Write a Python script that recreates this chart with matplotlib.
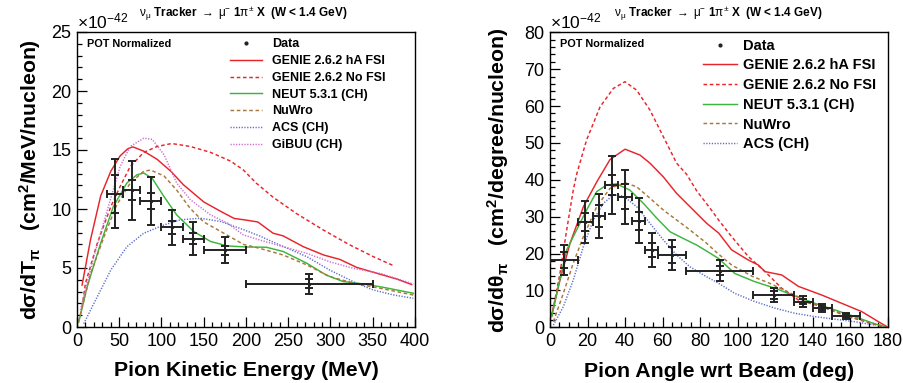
import numpy as np
import matplotlib
matplotlib.use('Agg')
import matplotlib.pyplot as plt
from matplotlib.lines import Line2D
from matplotlib.ticker import MultipleLocator

plt.rcParams['font.family'] = ['Liberation Sans', 'DejaVu Sans']
plt.rcParams['mathtext.fontset'] = 'custom'
plt.rcParams['mathtext.rm'] = 'Liberation Sans'
plt.rcParams['mathtext.it'] = 'Liberation Sans:italic'
plt.rcParams['mathtext.bf'] = 'Liberation Sans:bold'
plt.rcParams['lines.scale_dashes'] = False

# ---------------- Left panel: pion kinetic energy ----------------
T_center = [45, 65, 87.5, 112.5, 137.5, 175, 275]
T_lo = [35, 55, 75, 100, 125, 150, 200]
T_hi = [55, 75, 100, 125, 150, 200, 350]
T_data = [11.3, 11.6, 10.7, 8.45, 7.5, 6.5, 3.65]
T_err_tot = [2.95, 2.5, 2.05, 1.5, 1.38, 1.1, 0.85]
T_err_stat = [1.6, 0.85, 0.67, 0.57, 0.46, 0.37, 0.38]

T_genie_ha_x = [6, 16, 28, 40, 51, 60, 66, 79, 95, 111, 126, 150, 170, 186, 201, 214, 232, 244, 268, 292, 311, 331, 355, 379, 396]
T_genie_ha_y = [3.55, 7.4, 11.1, 13.2, 14.5, 15.1, 15.27, 14.9, 14.2, 13.2, 12.05, 10.6, 9.8, 9.2, 9.05, 8.9, 7.95, 7.72, 6.8, 6.1, 5.73, 5.05, 4.55, 4.05, 3.6]
T_genie_nofsi_x = [6, 10, 24, 40, 51, 63, 79, 95, 112, 134, 158, 182, 197, 212, 232, 260, 292, 323, 351, 376]
T_genie_nofsi_y = [1.7, 3.7, 7.1, 10.2, 11.9, 13.6, 14.8, 15.3, 15.55, 15.3, 14.8, 14.05, 13.3, 12.2, 11.0, 9.6, 8.2, 6.95, 5.95, 5.15]
T_neut_x = [2, 12, 28, 43, 59, 71, 79, 89, 103, 118, 138, 158, 178, 201, 224, 244, 272, 295, 315, 339, 362, 398]
T_neut_y = [0.4, 3.4, 7.1, 10.2, 12.2, 12.9, 13.05, 12.6, 11.05, 9.5, 8.1, 7.25, 6.87, 6.78, 6.76, 6.4, 5.4, 4.4, 3.85, 3.65, 3.37, 2.86]
T_nuwro_x = [2, 16, 32, 47, 63, 79, 87, 103, 118, 134, 150, 170, 197, 216, 244, 272, 299, 331, 359, 398]
T_nuwro_y = [0.5, 4.5, 7.66, 10.35, 12.2, 13.2, 13.3, 12.8, 11.6, 10.05, 8.9, 8.1, 7.0, 6.67, 6.1, 5.26, 4.27, 3.65, 3.28, 2.71]
T_acs_x = [8, 20, 40, 59, 79, 103, 122, 146, 170, 197, 216, 240, 272, 299, 331, 351, 375, 398]
T_acs_y = [0.28, 2.0, 4.83, 6.8, 7.95, 8.65, 9.08, 9.22, 8.94, 8.25, 7.72, 6.95, 5.96, 4.83, 3.7, 3.13, 2.71, 2.43]
T_gibuu_x = [4, 20, 36, 51, 63, 79, 89, 103, 118, 134, 158, 178, 197, 216, 244, 272, 299, 327, 359, 398]
T_gibuu_y = [1.43, 5.97, 9.93, 13.6, 15.3, 16.0, 15.9, 14.6, 12.2, 10.8, 9.5, 8.8, 7.8, 7.38, 6.8, 6.24, 5.53, 4.97, 4.54, 3.65]

# ---------------- Right panel: pion angle ----------------
A_lo = [0, 15, 22.7, 29.2, 36.3, 43.7, 50.7, 57.7, 72.5, 108.2, 130, 140.2, 150.2]
A_hi = [15, 22.7, 29.2, 36.3, 43.7, 50.7, 57.7, 72.5, 108.2, 130, 140.2, 150.2, 165.3]
A_center = [7.5, 18.8, 26.0, 32.8, 40.2, 47.2, 54.2, 65.2, 90.4, 119.2, 135.1, 145.2, 157.8]
A_data = [18.25, 28.6, 30.2, 38.6, 35.4, 28.9, 21.0, 19.6, 15.35, 8.76, 6.95, 5.15, 3.15]
A_err_tot = [4.05, 5.75, 6.0, 7.8, 7.35, 6.05, 4.65, 4.0, 2.9, 1.9, 1.45, 1.1, 0.85]
A_err_stat = [2.05, 2.35, 3.05, 2.6, 3.45, 2.45, 1.9, 2.1, 1.25, 1.0, 0.75, 0.55, 0.35]

A_genie_ha_x = [0.9, 5.3, 10.7, 17.8, 25, 32, 40, 48, 53.3, 60.4, 67.5, 74.6, 83.5, 90, 96.8, 105.7, 111, 114.6, 123.5, 132.4, 144.8, 155.5, 166.2, 175, 179.5]
A_genie_ha_y = [3.3, 12.8, 22.8, 32.7, 39.5, 45.5, 48.3, 46.7, 44.5, 40.8, 36.3, 32.7, 28.2, 25.5, 21.0, 18.25, 16.9, 15.1, 14.2, 11.1, 8.76, 6.5, 4.25, 1.54, 0.2]
A_genie_nofsi_x = [0.9, 5.3, 8.9, 12.4, 14.2, 19.5, 26.7, 33.8, 40, 46.2, 53.3, 60.4, 67.5, 72.8, 78.2, 85, 90, 96.8, 105.7, 114.6, 123.5, 132.4, 144.8, 159, 176.8]
A_genie_nofsi_y = [2.9, 14.6, 26.4, 37.2, 41.5, 50.8, 59.8, 64.8, 66.6, 64.3, 58.9, 51.7, 44.5, 41.5, 37.0, 32.5, 29.0, 24.6, 19.2, 15.1, 10.6, 7.4, 5.6, 2.9, 0.2]
A_neut_x = [0.9, 4.4, 8.9, 14.2, 19.5, 24.9, 30.2, 35.5, 42.6, 49.8, 56.9, 64, 71, 78.2, 85.3, 90, 98.5, 109, 119.9, 130.5, 141.2, 151.9, 162.5, 173.2, 178.6]
A_neut_y = [2.9, 11.0, 21.0, 26.4, 31.8, 36.8, 38.6, 38.9, 37.2, 33.6, 29.6, 25.9, 24.1, 22.3, 20.1, 18.6, 14.6, 12.4, 10.6, 8.5, 6.5, 4.7, 2.9, 0.9, 0.2]
A_nuwro_x = [1.8, 7.1, 12.4, 17.8, 24.9, 32, 40, 46.2, 53.3, 60.4, 67.5, 74.6, 83.5, 89, 96.8, 107.9, 116.8, 126.5, 137.3, 150, 162.5, 176.8]
A_nuwro_y = [1.5, 9.2, 17.4, 24.6, 32.7, 37.7, 39.2, 38.1, 35.0, 31.8, 29.1, 26.4, 22.8, 20.2, 16.9, 13.8, 12.0, 9.7, 7.0, 4.7, 2.5, 0.4]
A_acs_x = [1.8, 7.1, 12.4, 17.8, 23.1, 28.4, 33.8, 39.1, 46.2, 53.3, 60.4, 67.5, 74.6, 83.5, 89, 98.5, 109, 119.9, 130.5, 141.2, 151.9, 162.5, 173.2]
A_acs_y = [0.6, 5.6, 12.8, 21.9, 29.1, 33.6, 35.9, 35.6, 32.7, 28.2, 23.7, 19.6, 16.4, 13.7, 12.2, 9.2, 7.0, 5.2, 3.8, 2.9, 2.2, 1.5, 0.6]

labels_left = ['Data', 'GENIE 2.6.2 hA FSI', 'GENIE 2.6.2 No FSI', 'NEUT 5.3.1 (CH)', 'NuWro', 'ACS (CH)', 'GiBUU (CH)']
labels_right = labels_left[:6]

C_RED = '#e8242b'
C_GREEN = '#3db53d'
C_BROWN = '#a8773a'
C_BLUE = '#5b6ccc'
C_PINK = '#cc6acc'
DASH = (0, (2.6, 1.9))
DOT = (0, (0.9, 1.1))
DATA_C = '#222222'

fig = plt.figure(figsize=(9.04, 3.83), dpi=100)
axL = fig.add_axes([77 / 904, (383 - 327) / 383, 338 / 904, 295 / 383])
axR = fig.add_axes([550 / 904, (383 - 327.3) / 383, 337.7 / 904, 295 / 383])


def draw_data(ax, xc, lo, hi, y, tot, stat):
    xc = np.asarray(xc, float)
    xerr = [xc - np.asarray(lo, float), np.asarray(hi, float) - xc]
    ax.errorbar(xc, y, xerr=xerr, yerr=tot, fmt='none', ecolor=DATA_C,
                elinewidth=1.4, capsize=3.2, capthick=1.4, zorder=5)
    ax.errorbar(xc, y, yerr=stat, fmt='.', color=DATA_C, ms=3,
                elinewidth=1.4, capsize=3.2, capthick=1.4, zorder=5)


def style_axes(ax, xmax, ymax, xmaj, xmin, ymaj, ymin):
    ax.set_xlim(0, xmax)
    ax.set_ylim(0, ymax)
    ax.xaxis.set_major_locator(MultipleLocator(xmaj))
    ax.xaxis.set_minor_locator(MultipleLocator(xmin))
    ax.yaxis.set_major_locator(MultipleLocator(ymaj))
    ax.yaxis.set_minor_locator(MultipleLocator(ymin))
    ax.tick_params(which='both', direction='in', top=False, right=False, width=0.9)
    ax.tick_params(which='major', length=7.5, labelsize=13, pad=4)
    ax.tick_params(which='minor', length=3.8)
    for s in ax.spines.values():
        s.set_linewidth(1.0)


lw = 1.05
# Left
lL = []
lL.append(axL.plot(T_genie_ha_x, T_genie_ha_y, color=C_RED, lw=lw)[0])
lL.append(axL.plot(T_genie_nofsi_x, T_genie_nofsi_y, color=C_RED, lw=lw, ls=DASH)[0])
lL.append(axL.plot(T_neut_x, T_neut_y, color=C_GREEN, lw=lw)[0])
lL.append(axL.plot(T_nuwro_x, T_nuwro_y, color=C_BROWN, lw=lw, ls=DASH)[0])
lL.append(axL.plot(T_acs_x, T_acs_y, color=C_BLUE, lw=lw, ls=DOT)[0])
lL.append(axL.plot(T_gibuu_x, T_gibuu_y, color=C_PINK, lw=lw, ls=DOT)[0])
draw_data(axL, T_center, T_lo, T_hi, T_data, T_err_tot, T_err_stat)
style_axes(axL, 400, 25, 50, 10, 5, 1)

# Right
lR = []
lR.append(axR.plot(A_genie_ha_x, A_genie_ha_y, color=C_RED, lw=lw)[0])
lR.append(axR.plot(A_genie_nofsi_x, A_genie_nofsi_y, color=C_RED, lw=lw, ls=DASH)[0])
lR.append(axR.plot(A_neut_x, A_neut_y, color=C_GREEN, lw=lw)[0])
lR.append(axR.plot(A_nuwro_x, A_nuwro_y, color=C_BROWN, lw=lw, ls=DASH)[0])
lR.append(axR.plot(A_acs_x, A_acs_y, color=C_BLUE, lw=lw, ls=DOT)[0])
draw_data(axR, A_center, A_lo, A_hi, A_data, A_err_tot, A_err_stat)
style_axes(axR, 180, 80, 20, 5, 10, 2)

data_handle = Line2D([], [], ls='none', marker='.', color=DATA_C, ms=4)
axL.legend([data_handle] + lL, labels_left, loc='upper left', bbox_to_anchor=(0.453, 0.978),
           frameon=False, prop=dict(weight='bold', size=9), handlelength=2.56,
           handletextpad=0.8, labelspacing=0.38, borderpad=0, borderaxespad=0)
axR.legend([data_handle] + lR, labels_right, loc='upper left', bbox_to_anchor=(0.453, 0.978),
           frameon=False, prop=dict(weight='bold', size=10.5), handlelength=2.33,
           handletextpad=0.41, labelspacing=0.39, borderpad=0, borderaxespad=0)

for ax in (axL, axR):
    ax.text(0.03, 0.959, 'POT Normalized', transform=ax.transAxes, fontsize=7.8,
            weight='bold', va='center', ha='left')
    ax.text(0.0, 1.003, r'$\times$10$^{-42}$', transform=ax.transAxes, fontsize=12.5,
            va='bottom', ha='left')

title = (r'$\mathrm{\nu_{\mu}}$ Tracker $\rightarrow$ $\mathrm{\mu^{-}}$ '
         r'1$\mathrm{\pi^{\pm}}$ X  (W < 1.4 GeV)')
fig.text(243 / 904, 1 - 14 / 383, title, ha='center', va='center', fontsize=8.5, weight='bold')
fig.text(718 / 904, 1 - 14 / 383, title, ha='center', va='center', fontsize=8.5, weight='bold')

axL.set_xlabel('Pion Kinetic Energy (MeV)', fontsize=15.3, weight='bold')
axR.set_xlabel('Pion Angle wrt Beam (deg)', fontsize=15.3, weight='bold')
axL.set_ylabel(r'dσ/dT$_{\mathbf{\pi}}$   (cm$^{\mathbf{2}}$/MeV/nucleon)', fontsize=15.3, weight='bold')
axR.set_ylabel(r'dσ/dθ$_{\mathbf{\pi}}$   (cm$^{\mathbf{2}}$/degree/nucleon)', fontsize=15.3, weight='bold')
for ax, yx in ((axL, -0.139), (axR, -0.155)):
    ax.xaxis.set_label_coords(0.5, -0.149)
    ax.xaxis.label.set_va('center')
    ax.yaxis.set_label_coords(yx, 0.5)
    ax.yaxis.label.set_va('center')

fig.savefig('out.png', dpi=100)
